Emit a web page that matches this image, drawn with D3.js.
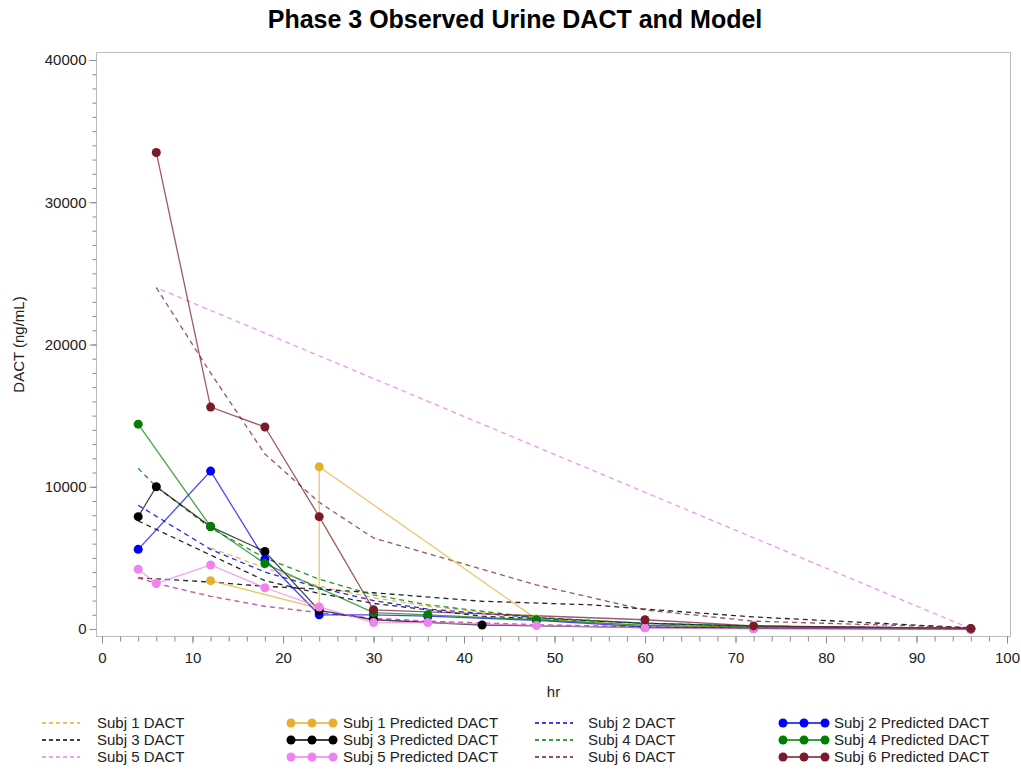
<!DOCTYPE html>
<html><head><meta charset="utf-8">
<script src="https://cdn.jsdelivr.net/npm/d3@7"></script>
<style>body{margin:0;background:#fff}svg{display:block;font-family:"Liberation Sans",Arial,sans-serif}</style>
</head><body><svg id="c" width="1021" height="770"></svg>
<script>
// ---------- data ----------
const subjects = ["Subj 1", "Subj 2", "Subj 3", "Subj 4", "Subj 5", "Subj 6"];
const palette = ["#E6B02E", "#0000FF", "#000000", "#008000", "#EE82EE", "#7A1A2A"];
const xTickValues = [0, 10, 20, 30, 40, 50, 60, 70, 80, 90, 100];
const yTickValues = [0, 10000, 20000, 30000, 40000];

// series drawn as solid lines with markers (legend: "Subj n Predicted DACT")
const mark1Hr = [12, 24, 24, 48, 60, 72, 96];
const mark1 = [3400, 1450, 11400, 700, 250, 100, 30];
const mark2Hr = [4, 12, 18, 24, 30, 36, 48, 60, 72, 96];
const mark2 = [5600, 11100, 4900, 1000, 1000, 900, 600, 150, 50, 10];
const mark3Hr = [4, 6, 12, 18, 24, 30, 42, 60, 72, 96];
const mark3 = [7900, 10000, 7200, 5450, 1300, 650, 280, 100, 50, 0];
const mark4Hr = [4, 12, 18, 30, 36, 48, 60, 72, 96];
const mark4 = [14400, 7200, 4600, 1150, 1000, 650, 250, 150, 20];
const mark5Hr = [4, 6, 12, 18, 24, 30, 36, 48, 60, 72, 96];
const mark5 = [4200, 3200, 4500, 2900, 1550, 450, 450, 250, 80, 10, 0];
const mark6Hr = [6, 12, 18, 24, 30, 60, 72, 96];
const mark6 = [33500, 15600, 14200, 7900, 1350, 650, 220, 30];

// series drawn as dashed lines (legend: "Subj n DACT"), one or more segments each
const dash1Hr = [12, 18, 24, 30, 36, 48, 60, 72, 96];
const dash1 = [5700, 4300, 3000, 2200, 1600, 800, 400, 200, 50];
const dash2Hr = [4, 12, 18, 24, 30, 36, 48, 60, 72, 96];
const dash2 = [8700, 5600, 4000, 2900, 2000, 1400, 800, 400, 200, 50];
const dash3Hr = [4, 6, 12, 18, 24, 30, 42, 60, 72, 96];
const dash3 = [7600, 7000, 5200, 3400, 2500, 1800, 900, 400, 200, 50];
const dash3bHr = [4, 12, 18, 24, 30, 42, 54, 60, 72, 96];
const dash3b = [3600, 3300, 3000, 2800, 2550, 1950, 1700, 1400, 850, 80];
const dash4Hr = [4, 6, 12, 18, 24, 30, 36, 48, 60, 72, 96];
const dash4 = [11300, 10000, 7100, 5000, 3500, 2400, 1700, 800, 400, 200, 40];
const dash5Hr = [4, 6, 12, 18, 24, 30, 36, 48, 60, 72, 96, 6];
const dash5 = [3600, 3200, 2300, 1600, 1150, 750, 550, 300, 150, 70, 20, 24000];
const dash6Hr = [6, 12, 18, 24, 30, 48, 60, 72, 96];
const dash6 = [24000, 18000, 12300, 8900, 6400, 3100, 1340, 550, 100];
const dash6bHr = [4, 6, 12, 18, 24, 30, 36, 48, 60, 72, 96];
const dash6b = [3600, 3200, 2300, 1600, 1150, 750, 550, 300, 150, 70, 20];

// ---------- build ----------
const zip = (xs, ys) => xs.map((x, i) => ({x, y: ys[i]}));
const markSeries = [
  zip(mark1Hr, mark1), zip(mark2Hr, mark2), zip(mark3Hr, mark3),
  zip(mark4Hr, mark4), zip(mark5Hr, mark5), zip(mark6Hr, mark6)
];
const dashSeries = [
  [zip(dash1Hr, dash1)], [zip(dash2Hr, dash2)], [zip(dash3Hr, dash3), zip(dash3bHr, dash3b)],
  [zip(dash4Hr, dash4)], [zip(dash5Hr, dash5)], [zip(dash6Hr, dash6), zip(dash6bHr, dash6b)]
];

const svg = d3.select("#c");
const W = 1021, H = 770;
const plot = {left: 96, right: 1011, top: 52, bottom: 637};

const x = d3.scaleLinear().domain([-0.663, 100.44]).range([plot.left, plot.right]);
const y = d3.scaleLinear().domain([-562, 40562]).range([plot.bottom, plot.top]);

svg.append("rect").attr("width", W).attr("height", H).attr("fill", "#fff");

// title
svg.append("text").attr("x", 515).attr("y", 28).attr("text-anchor", "middle")
  .attr("font-size", 25).attr("font-weight", "bold").attr("fill", "#000")
  .text("Phase 3 Observed Urine DACT and Model");

// frame
svg.append("rect").attr("x", plot.left + 0.5).attr("y", plot.top + 0.5)
  .attr("width", plot.right - plot.left - 1).attr("height", plot.bottom - plot.top - 1)
  .attr("fill", "none").attr("stroke", "#bdbdbd").attr("stroke-width", 1);

const tickColor = "#8c8c8c";
function styleAxis(g) {
  g.select(".domain").remove();
  g.selectAll(".tick line").attr("stroke", tickColor);
  g.selectAll(".tick text").attr("fill", "#222").attr("font-size", 15)
    .attr("font-family", '"Liberation Sans",Arial,sans-serif');
}

// minor ticks
svg.append("g").attr("transform", `translate(${plot.left + 0.5},0)`)
  .call(d3.axisLeft(y).tickValues(d3.range(0, 40001, 1000)).tickSize(4).tickFormat(""))
  .call(styleAxis);
svg.append("g").attr("transform", `translate(0,${plot.bottom - 0.5})`)
  .call(d3.axisBottom(x).tickValues(d3.range(0, 101, 2)).tickSize(5).tickFormat(""))
  .call(styleAxis);
// major ticks
svg.append("g").attr("transform", `translate(${plot.left + 0.5},0)`)
  .call(d3.axisLeft(y).tickValues(yTickValues).tickSize(7).tickPadding(3).tickFormat(d3.format("d")))
  .call(styleAxis);
svg.append("g").attr("transform", `translate(0,${plot.bottom - 0.5})`)
  .call(d3.axisBottom(x).tickValues(xTickValues).tickSize(7).tickPadding(9).tickFormat(d3.format("d")))
  .call(styleAxis);

// axis labels
svg.append("text").attr("x", (plot.left + plot.right) / 2).attr("y", 697)
  .attr("text-anchor", "middle").attr("font-size", 15).attr("fill", "#222").text("hr");
svg.append("text").attr("transform", `translate(24,${(plot.top + plot.bottom) / 2}) rotate(-90)`)
  .attr("text-anchor", "middle").attr("font-size", 15).attr("fill", "#222").text("DACT (ng/mL)");

const line = d3.line().x(d => x(d.x)).y(d => y(d.y));
svg.append("defs").append("clipPath").attr("id", "pc")
  .append("rect").attr("x", plot.left).attr("y", plot.top)
  .attr("width", plot.right - plot.left).attr("height", plot.bottom - plot.top);
const gPlot = svg.append("g").attr("clip-path", "url(#pc)");

// dashed series
dashSeries.forEach((segs, i) => {
  segs.forEach((seg, j) => {
    gPlot.append("path").datum(seg).attr("d", line).attr("fill", "none")
      .attr("stroke", palette[i]).attr("stroke-width", 1.3)
      .attr("stroke-opacity", i === 5 ? (j === 0 ? 0.75 : 0.45) : 0.85)
      .attr("stroke-dasharray", "5,4");
  });
});
// solid series with markers
markSeries.forEach((pts, i) => {
  gPlot.append("path").datum(pts).attr("d", line).attr("fill", "none")
    .attr("stroke", palette[i]).attr("stroke-width", 1.3).attr("stroke-opacity", 0.72);
});
markSeries.forEach((pts, i) => {
  gPlot.selectAll(null).data(pts).enter().append("circle")
    .attr("cx", d => x(d.x)).attr("cy", d => y(d.y)).attr("r", 4.5)
    .attr("fill", palette[i]);
});

// legend
const legendCols = [42, 289, 535, 781];
const legendTextOffsets = [55, 54, 53, 53];
const legendRows = [723, 740, 757];
const legendItems = [];
subjects.forEach((s, i) => {
  legendItems.push({label: s + " DACT", color: palette[i], type: "dash"});
  legendItems.push({label: s + " Predicted DACT", color: palette[i], type: "mark"});
});
legendItems.forEach((it, k) => {
  const col = k % 4, row = Math.floor(k / 4);
  const lx = legendCols[col], ly = legendRows[row];
  const g = svg.append("g");
  if (it.type === "dash") {
    g.append("line").attr("x1", lx).attr("x2", lx + 38).attr("y1", ly).attr("y2", ly)
      .attr("stroke", it.color).attr("stroke-width", 1.3).attr("stroke-dasharray", "4,3");
  } else {
    g.append("line").attr("x1", lx + 2).attr("x2", lx + 44).attr("y1", ly).attr("y2", ly)
      .attr("stroke", it.color).attr("stroke-width", 1.3);
    [2, 23, 44].forEach(o => g.append("circle").attr("cx", lx + o).attr("cy", ly).attr("r", 4.5).attr("fill", it.color));
  }
  g.append("text").attr("x", lx + legendTextOffsets[col]).attr("y", ly + 5)
    .attr("font-size", 15).attr("fill", "#222").text(it.label);
});
</script></body></html>
